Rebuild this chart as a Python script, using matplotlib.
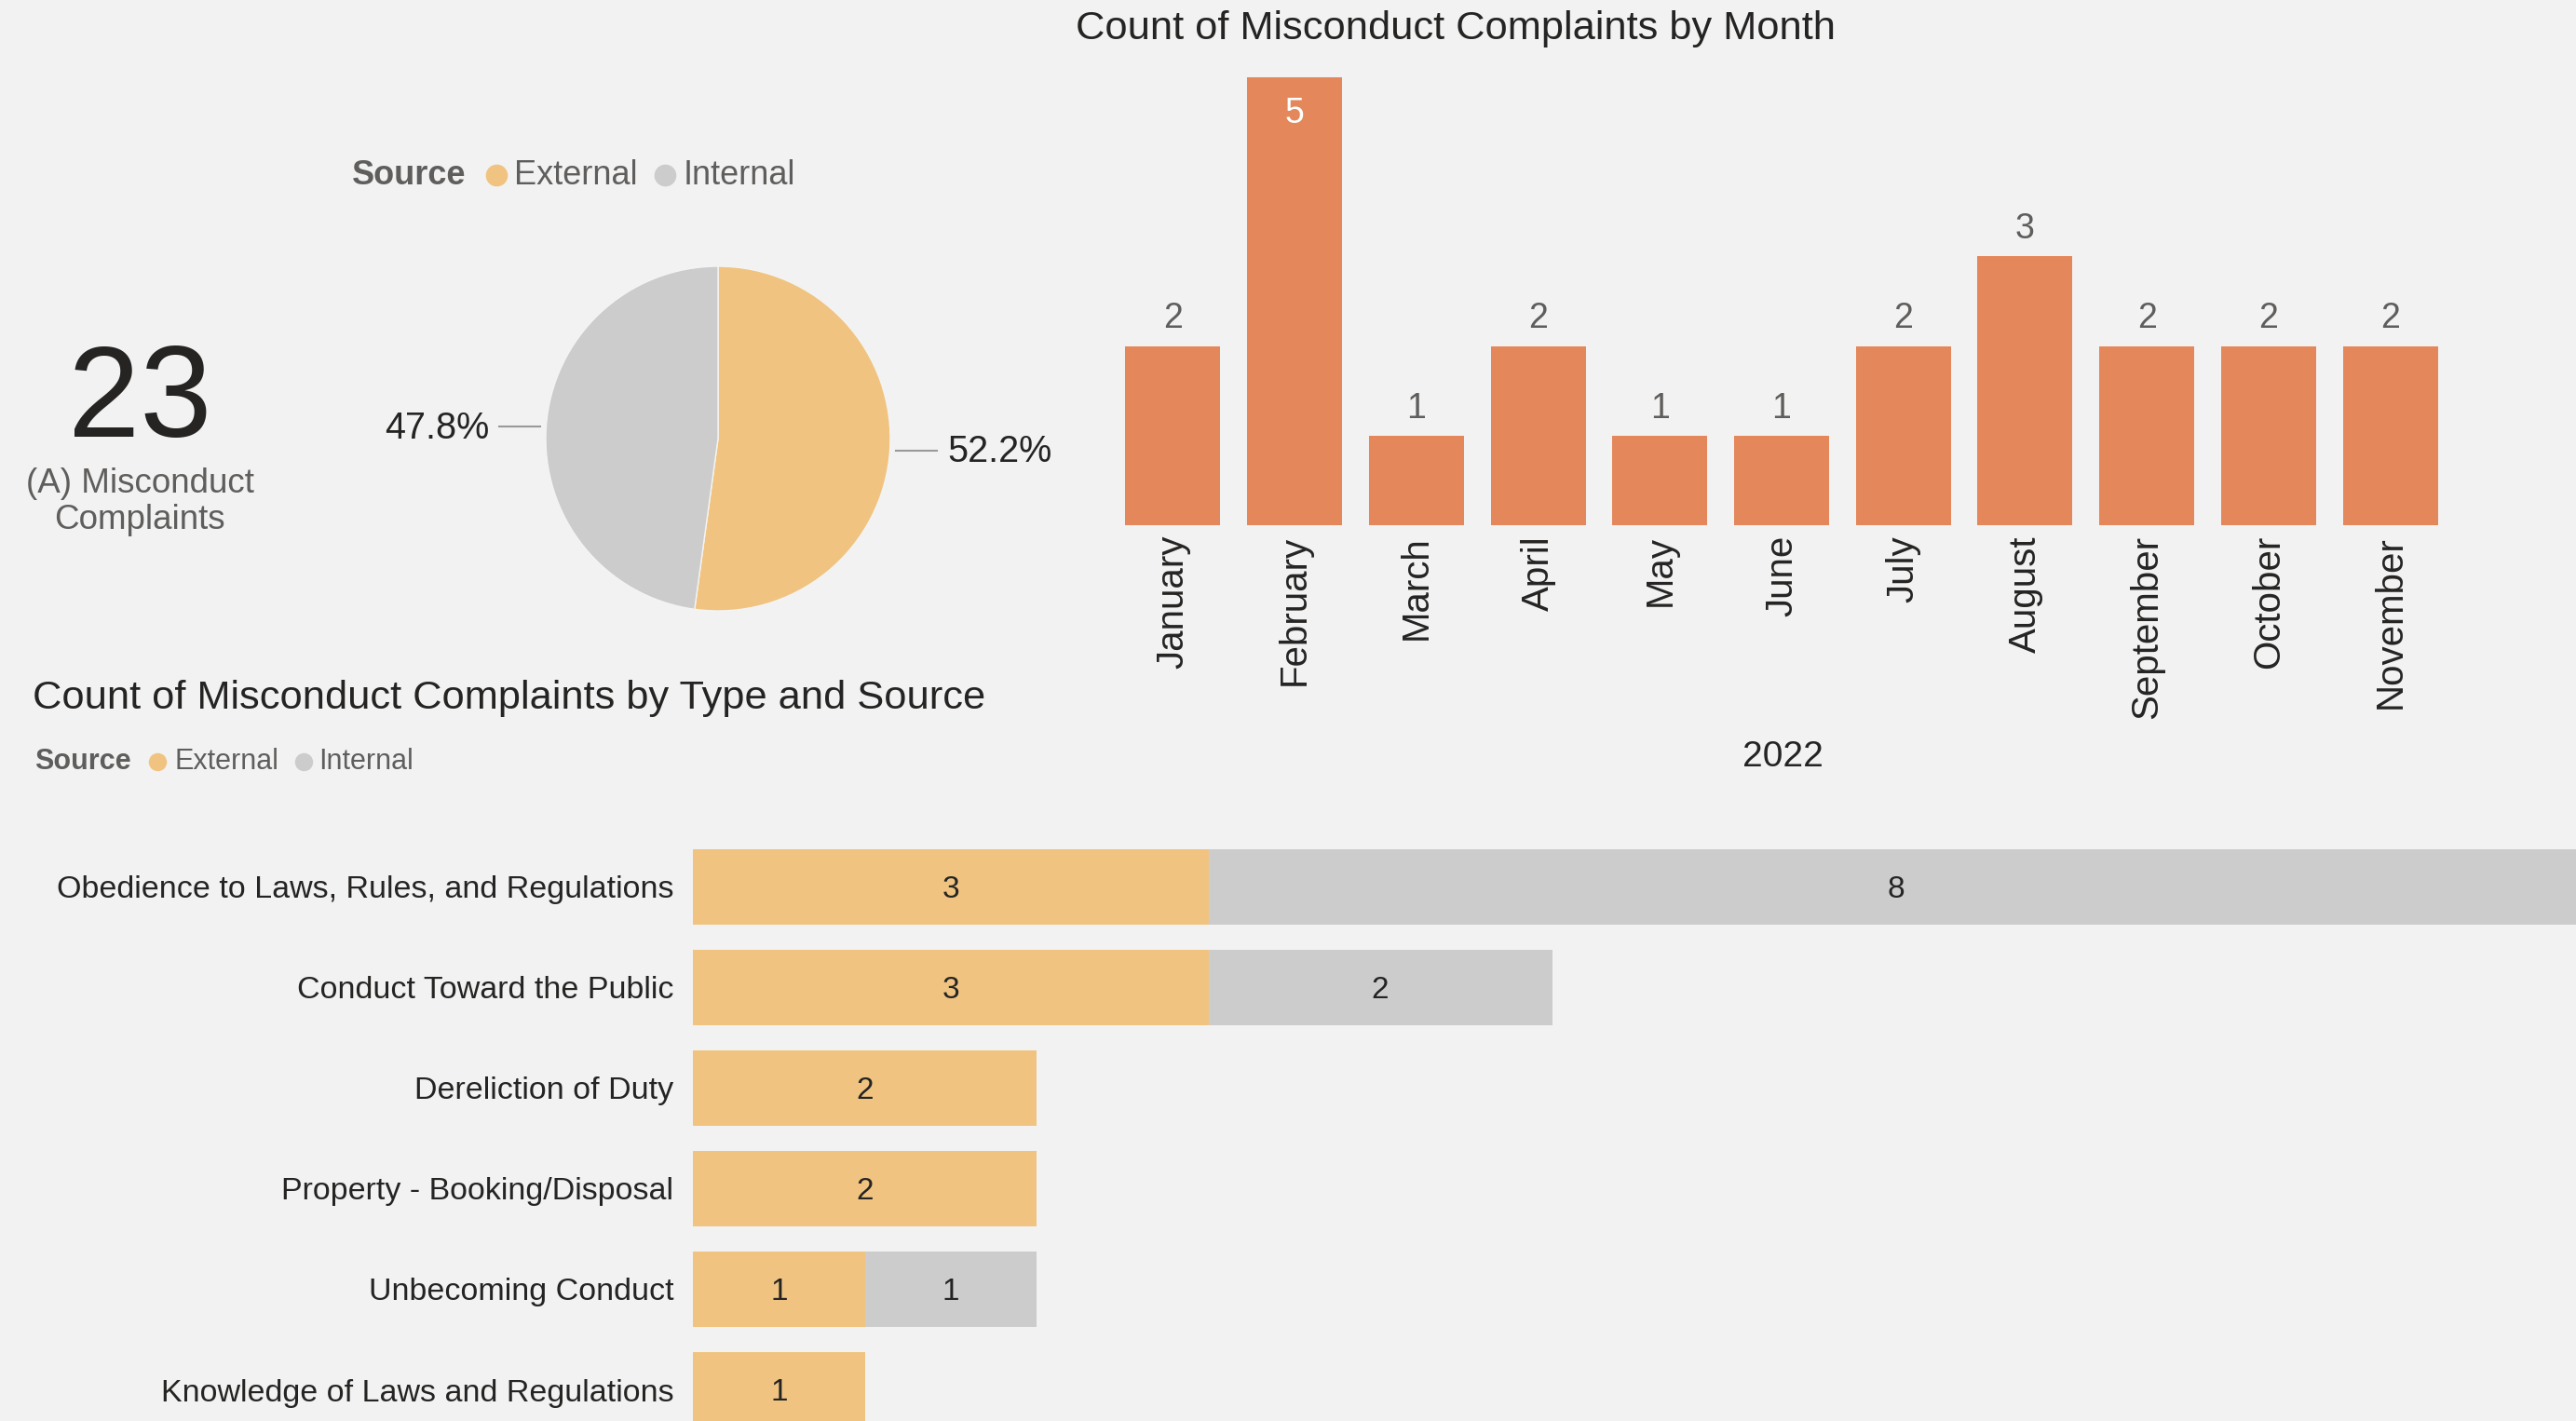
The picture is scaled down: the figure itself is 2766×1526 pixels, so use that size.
import numpy as np
import matplotlib.pyplot as plt
from matplotlib.lines import Line2D

plt.rcParams['font.family'] = ['Liberation Sans', 'DejaVu Sans']

# complaint counts per month, 2022
months = ['January', 'February', 'March', 'April', 'May', 'June', 'July',
          'August', 'September', 'October', 'November']
month_counts = [2, 5, 1, 2, 1, 1, 2, 3, 2, 2, 2]

# source split
sources = ['External', 'Internal']
source_counts = [12, 11]

# complaints by type and source
types = ['Obedience to Laws, Rules, and Regulations', 'Conduct Toward the Public',
         'Dereliction of Duty', 'Property - Booking/Disposal', 'Unbecoming Conduct',
         'Knowledge of Laws and Regulations']
external_counts = [3, 3, 2, 2, 1, 1]
internal_counts = [8, 2, 0, 0, 1, 0]

BG = '#F2F2F2'
ORANGE = '#E4875B'
EXT = '#F0C480'
INT = '#CCCCCC'
DARK = '#252423'
GREY = '#605E5C'

W, H = 2766, 1526
fig = plt.figure(figsize=(W / 100, H / 100), dpi=100, facecolor=BG)


def fx(px):
    return px / W


def fy(py):
    return 1 - py / H


def legend_row(x0, y, size, dot, xs):
    # "Source" header followed by coloured dots and labels
    fig.text(fx(x0), fy(y), 'Source', fontsize=size, fontweight='bold',
             color=GREY, va='center', ha='left')
    for (dx, tx), name, col in zip(xs, sources, [EXT, INT]):
        fig.add_artist(Line2D([fx(dx)], [fy(y)], marker='o', markersize=dot,
                              color=col, linestyle='none',
                              transform=fig.transFigure))
        fig.text(fx(tx), fy(y), name, fontsize=size, color=GREY,
                 va='center', ha='left')


# KPI card
fig.text(fx(150), fy(433), str(sum(source_counts)), fontsize=100, color=DARK,
         ha='center', va='center')
fig.text(fx(150), fy(539), '(A) Misconduct\nComplaints', fontsize=26.5,
         color=GREY, ha='center', va='center', linespacing=1.12)

# pie of source share
legend_row(378, 188, 26, 16, [(533, 552), (714, 734)])
R = 185
cx, cy = 771, 471
axp = fig.add_axes([fx(cx - 1.5 * R), fy(cy + 1.5 * R), 3 * R / W, 3 * R / H])
wedges, _ = axp.pie(source_counts, colors=[EXT, INT], startangle=90,
                    counterclock=False,
                    wedgeprops=dict(edgecolor='#F4F4F4', linewidth=1))
axp.set_xlim(-1.5, 1.5)
axp.set_ylim(-1.5, 1.5)
axp.set_aspect('equal')
total = sum(source_counts)
for w, val in zip(wedges, source_counts):
    ang = np.deg2rad((w.theta1 + w.theta2) / 2)
    ys = np.sin(ang)
    sgn = 1 if np.cos(ang) >= 0 else -1
    axp.plot([sgn * 1.03, sgn * 1.27], [ys, ys], color='#999999', lw=1.5,
             clip_on=False)
    axp.text(sgn * 1.33, ys - 0.01, f'{val / total * 100:.1f}%', fontsize=28.5,
             color=DARK, ha='left' if sgn > 0 else 'right', va='center',
             clip_on=False)

# monthly column chart
axm = fig.add_axes([fx(1194), fy(564), (2632 - 1194) / W, (564 - 83) / H])
axm.set_facecolor(BG)
xm = np.arange(len(months))
axm.bar(xm, month_counts, width=0.78, color=ORANGE)
axm.set_xlim(-0.5, len(months) - 0.5)
axm.set_ylim(0, max(month_counts))
top = max(month_counts)
for x, v in zip(xm, month_counts):
    if v == top:
        axm.annotate(str(v), (x, v), xytext=(0, -28), textcoords='offset points',
                     ha='center', va='center', fontsize=27, color='white')
    else:
        axm.annotate(str(v), (x, v), xytext=(0, 21), textcoords='offset points',
                     ha='center', va='center', fontsize=27, color=GREY)
axm.set_xticks(xm, months, rotation=90, fontsize=29, color=DARK)
axm.tick_params(axis='x', length=0, pad=8)
axm.set_yticks([])
for s in axm.spines.values():
    s.set_visible(False)
fig.text(fx(1563), fy(31), 'Count of Misconduct Complaints by Month',
         fontsize=31.2, color=DARK, ha='center', va='center')
fig.text(fx(1914), fy(813), '2022', fontsize=28, color=DARK,
         ha='center', va='center')

# stacked horizontal bars by type
fig.text(fx(35), fy(750), 'Count of Misconduct Complaints by Type and Source',
         fontsize=31.2, color=DARK, ha='left', va='center')
legend_row(37, 818, 22, 13, [(169, 187), (326, 342)])

axh = fig.add_axes([fx(744), 0, 1 - fx(744), (H - 880) / H])
axh.set_facecolor(BG)
yh = np.arange(len(types))
axh.barh(yh, external_counts, height=0.75, color=EXT)
axh.barh(yh, internal_counts, left=external_counts, height=0.75, color=INT)
for y, e, i in zip(yh, external_counts, internal_counts):
    if e:
        axh.text(e / 2, y + 0.03, str(e), ha='center', va='center', fontsize=24,
                 color=DARK)
    if i:
        axh.text(e + i / 2, y + 0.03, str(i), ha='center', va='center',
                 fontsize=24, color=DARK)
axh.set_xlim(0, (W - 744) / 184.5)
axh.set_ylim(5.31, -0.67)
axh.set_yticks(yh, types, fontsize=24.5, color=DARK)
axh.tick_params(axis='y', length=0, pad=15)
axh.set_xticks([])
for s in axh.spines.values():
    s.set_visible(False)

fig.savefig('out.png', dpi=100, facecolor=BG)
